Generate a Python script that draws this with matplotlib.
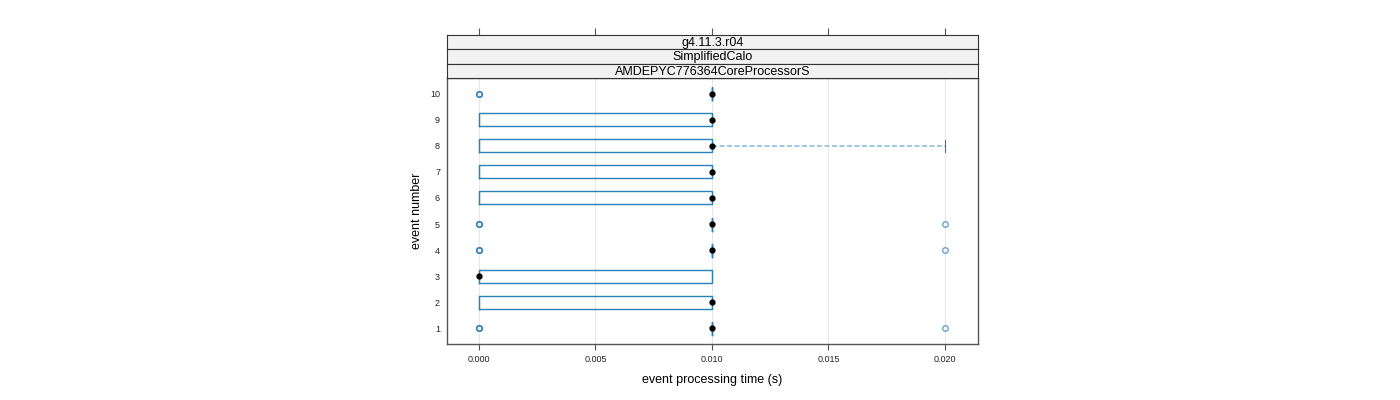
import numpy as np
import matplotlib.pyplot as plt

plt.rcParams['font.family'] = ['Liberation Sans', 'DejaVu Sans']

events = [1, 2, 3, 4, 5, 6, 7, 8, 9, 10]
whislo = [0.01, 0.0, 0.0, 0.01, 0.01, 0.0, 0.0, 0.0, 0.0, 0.01]
q1 = [0.01, 0.0, 0.0, 0.01, 0.01, 0.0, 0.0, 0.0, 0.0, 0.01]
med = [0.01, 0.01, 0.0, 0.01, 0.01, 0.01, 0.01, 0.01, 0.01, 0.01]
q3 = [0.01, 0.01, 0.01, 0.01, 0.01, 0.01, 0.01, 0.01, 0.01, 0.01]
whishi = [0.01, 0.01, 0.01, 0.01, 0.01, 0.01, 0.01, 0.02, 0.01, 0.01]
fliers = [[0.0, 0.0, 0.0, 0.02], [], [], [0.0, 0.0, 0.0, 0.02], [0.0, 0.0, 0.0, 0.02],
          [], [], [], [], [0.0, 0.0, 0.0]]
strips = ["g4.11.3.r04", "SimplifiedCalo", "AMDEPYC776364CoreProcessorS"]
xticks = [0.000, 0.005, 0.010, 0.015, 0.020]

box_col = "#2a80b9"
whisk_col = "#8cc0e0"
frame_col = "#555555"

fig = plt.figure(figsize=(14, 4), dpi=100)
ax = fig.add_axes([447 / 1400, 1 - 344 / 400, 531 / 1400, 266 / 400])

stats = []
for i in range(len(events)):
    stats.append(dict(whislo=whislo[i], q1=q1[i], med=med[i], q3=q3[i],
                      whishi=whishi[i], fliers=fliers[i]))

ax.bxp(stats, positions=events, widths=0.5, capwidths=0.45, orientation='horizontal',
       boxprops=dict(color=box_col, linewidth=1.0),
       whiskerprops=dict(color=whisk_col, linestyle=(0, (3, 1.5)), linewidth=1.2),
       capprops=dict(color=box_col, linewidth=0.8),
       medianprops=dict(linestyle='none'),
       flierprops=dict(marker='o', markersize=4, markerfacecolor='none',
                       markeredgecolor=box_col, markeredgewidth=1.0, alpha=0.7),
       manage_ticks=False, zorder=3)
ax.plot(med, events, 'o', color='black', markersize=3.5, zorder=4)

for x in xticks:
    ax.axvline(x, color='#e8e8e8', linewidth=0.8, zorder=0)

ax.set_xlim(-0.00137, 0.02142)
ax.set_ylim(0.385, 10.615)
ax.set_xticks(xticks)
ax.set_xticklabels([f"{x:.3f}" for x in xticks], fontsize=6.5)
ax.set_yticks(events)
ax.set_yticklabels([str(e) for e in events], fontsize=6.5)
ax.tick_params(axis='y', length=0, pad=5, colors='#222222')
ax.tick_params(axis='x', length=4, width=0.8, color=frame_col, pad=4, labelcolor='#222222')
for s in ax.spines.values():
    s.set_color(frame_col)
    s.set_linewidth(1.0)
ax.set_xlabel("event processing time (s)", fontsize=9, labelpad=7)
ax.set_ylabel("event number", fontsize=9, labelpad=5)

# strips on top of the panel
h = (78 - 35) / 3
for k, name in enumerate(strips):
    top = 35 + k * h
    sa = fig.add_axes([447 / 1400, 1 - (top + h) / 400, 531 / 1400, h / 400])
    sa.set_facecolor('#f2f2f2')
    sa.set_xlim(ax.get_xlim())
    sa.set_yticks([])
    sa.text(0.5, 0.45, name, transform=sa.transAxes, ha='center', va='center', fontsize=9)
    for s in sa.spines.values():
        s.set_color('#333333')
        s.set_linewidth(0.8)
    if k == 0:
        sa.set_xticks(xticks)
        sa.xaxis.tick_top()
        sa.tick_params(axis='x', length=5, width=0.8, color=frame_col, labeltop=False)
    else:
        sa.set_xticks([])

fig.savefig("out.png", dpi=100)
